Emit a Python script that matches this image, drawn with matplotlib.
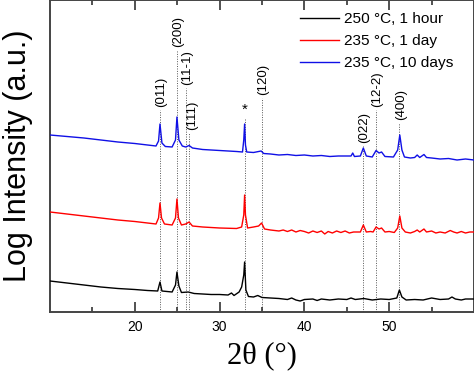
import numpy as np
import matplotlib
matplotlib.use("Agg")
import matplotlib.pyplot as plt

# ---- data (arbitrary stacked log-intensity units) ----
x_blue = [10, 12, 14, 16, 18, 20, 21.5, 22.5, 22.8, 22.97, 23.2, 23.6, 24.4, 24.8, 24.97,
          25.2, 25.6, 26.0, 26.4, 26.8, 28, 29, 30, 31, 32, 32.7, 32.85, 32.95, 33.05, 33.2,
          34, 34.9, 35.2, 36, 37, 38, 39, 40, 41, 42, 43, 44, 45.5, 45.7, 45.9, 46.6,
          46.95, 47.3, 48.0, 48.45, 48.8, 49.1, 49.5, 50.5, 51.0, 51.25, 51.5, 51.8, 52.5,
          53, 53.3, 53.6, 54.1, 54.4, 55, 56, 57, 58, 59, 60]
y_blue = [177, 175.5, 174, 172, 170, 168.5, 167, 166, 171, 188, 169, 165.5, 165, 172, 195,
          172, 166, 165, 166.5, 164, 162.5, 162, 161.5, 161, 160.5, 160, 172, 188, 167, 160,
          159.5, 161, 158.5, 158, 157, 157.5, 156.5, 157, 156, 156.5, 155.5, 156, 156, 159,
          155.5, 156, 164, 156, 155, 161.5, 159, 160, 155.5, 155, 162, 177, 162, 155, 154,
          154.5, 157, 154.5, 157.5, 154.5, 154, 153, 153.5, 152, 153, 152]

x_red = [10, 12, 14, 16, 18, 20, 21.5, 22.5, 22.8, 22.97, 23.15, 23.5, 24.4, 24.8, 24.97,
         25.15, 25.5, 26.0, 26.4, 26.8, 28, 30, 32, 32.6, 32.85, 32.95, 33.05, 33.3, 34.0,
         34.6, 34.95, 35.3, 36, 37, 37.5, 38, 38.5, 39, 39.5, 40, 40.5, 41, 41.5, 42, 42.4,
         42.8, 43.3, 43.8, 44.3, 44.8, 45.3, 45.8, 46.6, 46.95, 47.3, 47.8, 48.1, 48.45,
         48.8, 49.1, 49.5, 50.0, 50.6, 51.0, 51.25, 51.5, 51.9, 52.5, 53.0, 53.3, 53.6,
         54.1, 54.4, 55, 55.5, 56, 56.6, 57.2, 57.6, 58, 58.5, 59, 59.5, 60]
y_red = [100, 98, 96, 94, 92, 90.5, 89, 88, 94, 109, 94, 88, 87, 94, 113,
         94, 87, 88, 90, 86, 85, 84, 83.5, 85, 97, 117, 97, 84, 85,
         86, 89, 83, 82, 81, 82, 80.5, 82, 80, 81.5, 80.5, 79, 81, 79.5, 81, 78,
         80.5, 79, 81, 79.5, 81, 79, 80, 80, 87, 80, 80.5, 80, 85,
         83, 84, 80, 80.5, 79.5, 84, 96, 84, 80, 79, 80.5, 82, 80,
         83, 80, 81, 79, 80, 79, 81.5, 80, 79, 80.5, 79, 80, 80]

x_black = [10, 12, 14, 16, 18, 20, 21.5, 22.7, 22.97, 23.2, 24.4, 24.8, 24.97, 25.2, 25.5,
           26.3, 27, 28, 29, 30, 31, 31.4, 31.7, 32.3, 32.6, 32.85, 32.95, 33.1, 33.4, 34,
           34.5, 35, 36, 37, 38, 38.5, 39, 39.5, 40, 41, 41.5, 42, 43, 44, 45, 45.5, 46,
           47, 48, 49, 50, 50.9, 51.2, 51.5, 52, 53, 54, 55, 56, 57, 57.4, 57.8, 58.5, 59, 60]
y_black = [31, 29, 27, 25, 23.5, 22.5, 21.5, 21, 30, 21, 20, 27, 40, 26, 19.5,
           20, 18.5, 18, 17.5, 17.5, 17, 19, 16.5, 20, 25, 37, 50, 22, 15.5, 15,
           16.5, 14.5, 14, 13.5, 12.5, 14, 12, 11, 12.5, 13, 11.5, 13, 12, 13, 12.5, 14, 12.5,
           13.5, 12, 13, 12.5, 14, 22, 15, 12, 12.5, 12, 14, 12.5, 13, 15, 13, 12, 13, 13]

series_labels = ["250 \u00b0C, 1 hour", "235 \u00b0C, 1 day", "235 \u00b0C, 10 days"]

peak_x = [23.0, 24.97, 26.0, 26.45, 32.95, 34.98, 46.94, 48.45, 51.2]
peak_labels = ["(011)", "(200)", "(11-1)", "(111)", "*", "(120)", "(022)", "(12-2)", "(400)"]
peak_line_top = [202, 262, 224, 179, 194, 214, 166, 202, 189]

# ---- figure ----
fig = plt.figure(figsize=(4.74, 3.74), dpi=100)
ax = fig.add_axes([50/474, 62/374, 424/474, 312/374])

for xv, top in zip(peak_x, peak_line_top):
    ax.plot([xv, xv], [0, top], linestyle=(0, (1, 1.5)), color="#555555", lw=0.7, zorder=1)

ax.plot(x_black, y_black, color="black", lw=1.0, label=series_labels[0], zorder=3)
ax.plot(x_red, y_red, color="#ff0000", lw=1.0, label=series_labels[1], zorder=3)
ax.plot(x_blue, y_blue, color="#1010e6", lw=1.0, label=series_labels[2], zorder=3)

for xv, lab, top in zip(peak_x, peak_labels, peak_line_top):
    if lab == "*":
        ax.text(xv, top + 1, lab, ha="center", va="bottom", fontsize=11,
                family="Liberation Sans")
    else:
        dx = 0.35 if lab == "(111)" else 0.15
        ax.text(xv + dx, top + 3, lab, rotation=90, ha="center", va="bottom",
                fontsize=9.5, family="Liberation Sans")

ax.set_xlim(10, 60)
ax.set_ylim(0, 312)
ax.set_xticks([20, 30, 40, 50])
ax.set_xticks([15, 25, 35, 45, 55], minor=True)
ax.set_yticks([])
ax.tick_params(axis="x", which="major", direction="in", length=7, width=1.2,
               top=True, labelsize=10, color="#333333", pad=6)
ax.tick_params(axis="x", which="minor", direction="in", length=3.5, width=1.2,
               top=True, color="#333333")
for lab in ax.get_xticklabels():
    lab.set_family("Liberation Sans")
for sp in ax.spines.values():
    sp.set_color("#444444")
    sp.set_linewidth(1.4)

ax.set_xlabel("2\u03b8 (\u00b0)", fontsize=22, family="Liberation Serif", labelpad=5)
ax.set_ylabel("Log Intensity (a.u.)", fontsize=22, family="Liberation Sans", labelpad=12)

leg = ax.legend(loc="upper left", bbox_to_anchor=(0.590, 0.96), frameon=False,
                prop={"family": "Liberation Sans", "size": 11.1},
                handlelength=2.5, handletextpad=0.35, labelspacing=0.5,
                borderaxespad=0.0, borderpad=0.0)

fig.savefig("out.png", dpi=100)
